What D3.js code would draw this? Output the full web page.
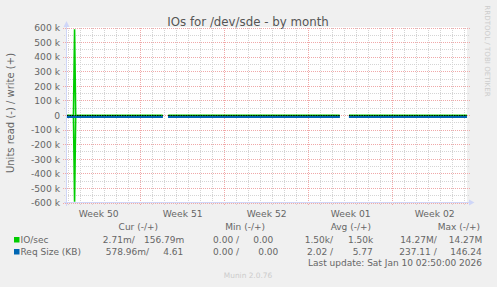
<!DOCTYPE html>
<html>
  <head>
    <title>IOs for /dev/sde - by month</title>
    <script src="https://d3js.org/d3.v7.min.js"></script>
    <style>
      body { margin: 0; background: #f0f0f0; }
      svg { display: block; font-family: "DejaVu Sans", sans-serif; }
      text { fill: #666; }
    </style>
  </head>
  <body>
    <div id="chart"></div>
    <script>
      // Samples (local time, 2h averages), null = no data
      var times = ["2025-12-08 20:36", "2025-12-09 09:30", "2025-12-09 11:45", "2025-12-09 14:00",
                   "2025-12-16 20:00", "2025-12-16 21:00", "2025-12-17 07:00",
                   "2025-12-31 14:00", "2025-12-31 15:00", "2026-01-01 08:30", "2026-01-11 04:36"];
      var ioRead   = [0.003, 0, 592000, 0, 1500, null, 1500, 1500, null, 1500, 0.003];
      var ioWrite  = [0.157, 0, 592000, 0, 1500, null, 1500, 1500, null, 1500, 0.157];
      var reqRead  = [0.58, 2, 237.11, 2, 2, null, 2, 2, null, 2, 0.58];
      var reqWrite = [4.61, 5, 146.24, 5, 5, null, 5, 5, null, 5, 4.61];

      var yTickValues = [600000, 500000, 400000, 300000, 200000, 100000, 0,
                         -100000, -200000, -300000, -400000, -500000, -600000];
      var yTickLabels = ["600 k", "500 k", "400 k", "300 k", "200 k", "100 k", "0",
                         "-100 k", "-200 k", "-300 k", "-400 k", "-500 k", "-600 k"];

      var legendNames = ["IO/sec", "Req Size (KB)"];
      var legendColors = ["#00cc00", "#0066b3"];
      var curValues = [["2.71m/", "156.79m"], ["578.96m/", "4.61"]];
      var minValues = [["0.00 /", "0.00"], ["0.00 /", "0.00"]];
      var avgValues = [["1.50k/", "1.50k"], ["2.02 /", "5.77"]];
      var maxValues = [["14.27M/", "14.27M"], ["237.11 /", "146.24"]];

      var parse = d3.timeParse("%Y-%m-%d %H:%M");
      var t = times.map(parse);

      var W = 497, H = 287;
      var svg = d3.select("#chart").append("svg")
        .attr("width", W)
        .attr("height", H);

      svg.append("rect").attr("width", W).attr("height", H).attr("fill", "#f0f0f0");

      var x = d3.scaleTime()
        .domain([parse("2025-12-08 20:36"), parse("2026-01-11 04:36")])
        .range([67, 467]);
      var y = d3.scaleLinear()
        .domain([-600000, 600000])
        .range([203, 28]);

      var px = function(v) { return Math.floor(v) + 0.5; };

      // canvas
      svg.append("rect").attr("x", 66).attr("y", 27).attr("width", 401).attr("height", 176)
        .attr("fill", "#fff");

      svg.append("clipPath").attr("id", "clip")
        .append("rect").attr("x", 67).attr("y", 27).attr("width", 400).attr("height", 176);

      var grid = svg.append("g");

      // minor grid
      var days = x.ticks(d3.timeDay.every(1));
      grid.selectAll(".vmin").data(days).enter().append("line")
        .attr("x1", function(d) { return px(x(d)); }).attr("x2", function(d) { return px(x(d)); })
        .attr("y1", 28).attr("y2", 205)
        .attr("stroke", "#d4d4d4").attr("stroke-dasharray", "1,1");
      var halves = yTickValues.slice(0, -1).map(function(v) { return v - 50000; });
      grid.selectAll(".hmin").data(halves).enter().append("line")
        .attr("x1", 64).attr("x2", 469)
        .attr("y1", function(d) { return px(y(d)); }).attr("y2", function(d) { return px(y(d)); })
        .attr("stroke", "#d4d4d4").attr("stroke-dasharray", "1,1");

      // major grid
      var weeks = x.ticks(d3.timeMonday.every(1));
      grid.selectAll(".vmaj").data(weeks).enter().append("line")
        .attr("x1", function(d) { return px(x(d)); }).attr("x2", function(d) { return px(x(d)); })
        .attr("y1", 28).attr("y2", 206)
        .attr("stroke", "#f0a8a8").attr("stroke-dasharray", "1,1");
      grid.selectAll(".hmaj").data(yTickValues).enter().append("line")
        .attr("x1", 63).attr("x2", 470)
        .attr("y1", function(d) { return px(y(d)); }).attr("y2", function(d) { return px(y(d)); })
        .attr("stroke", "#f0a8a8").attr("stroke-dasharray", "1,1");

      // data
      var plot = svg.append("g").attr("clip-path", "url(#clip)");
      function series(vals, sign) {
        return vals.map(function(v, i) { return { t: t[i], v: v == null ? null : sign * v }; });
      }
      var line = d3.line()
        .defined(function(d) { return d.v != null; })
        .x(function(d) { return x(d.t); })
        .y(function(d) { return y(d.v); });

      plot.append("path").datum(series(ioRead, -1)).attr("d", line)
        .attr("fill", "none").attr("stroke", legendColors[0]).attr("stroke-width", 1.6);
      plot.append("path").datum(series(ioWrite, 1)).attr("d", line)
        .attr("fill", "none").attr("stroke", legendColors[0]).attr("stroke-width", 1.6);
      plot.append("path").datum(series(reqRead, -1)).attr("d", line)
        .attr("transform", "translate(0,1.5)")
        .attr("fill", "none").attr("stroke", legendColors[1]).attr("stroke-width", 2);
      plot.append("path").datum(series(reqWrite, 1)).attr("d", line)
        .attr("transform", "translate(0,1.5)")
        .attr("fill", "none").attr("stroke", legendColors[1]).attr("stroke-width", 2);
      plot.append("path").datum(series(reqWrite, 0)).attr("d", line)
        .attr("fill", "none").attr("stroke", "#000").attr("stroke-width", 1)
        .attr("stroke-dasharray", "1.5,1");

      // axes
      var axisColor = "#cfd6f8";
      svg.append("line").attr("x1", 64).attr("x2", 469).attr("y1", 202.5).attr("y2", 202.5)
        .attr("stroke", axisColor);
      svg.append("line").attr("x1", 66.5).attr("x2", 66.5).attr("y1", 206).attr("y2", 26)
        .attr("stroke", axisColor);
      svg.append("path").attr("d", "M469,199.5L474.5,202.5L469,205.5Z").attr("fill", axisColor);
      svg.append("path").attr("d", "M63.5,27L66.5,21L69.5,27Z").attr("fill", axisColor);

      // y labels
      svg.selectAll(".ylab").data(yTickValues).enter().append("text")
        .attr("x", 60).attr("y", function(d) { return y(d) + 3.3; })
        .attr("text-anchor", "end").style("font-size", "9.2px")
        .text(function(d, i) { return yTickLabels[i]; });

      // x labels, centred in the week
      var labelWeeks = d3.timeMonday.range(d3.timeMonday.floor(x.domain()[0]), x.domain()[1])
        .filter(function(d) { var p = x(d3.timeHour.offset(d, 84)); return p > 67 && p < 467; });
      var weekFmt = d3.timeFormat("%V");
      svg.selectAll(".xlab").data(labelWeeks).enter().append("text")
        .attr("x", function(d) { return x(d3.timeHour.offset(d, 84)); })
        .attr("y", 216.5).attr("text-anchor", "middle").style("font-size", "9.2px")
        .text(function(d) { return "Week " + weekFmt(d); });

      // titles
      svg.append("text").attr("x", 248).attr("y", 26).attr("text-anchor", "middle")
        .style("font-size", "11.8px").style("fill", "#555")
        .text("IOs for /dev/sde - by month");
      svg.append("text").attr("transform", "translate(14,113) rotate(-90)")
        .attr("text-anchor", "middle").style("font-size", "10px")
        .text("Units read (-) / write (+)");
      svg.append("text").attr("transform", "translate(485,51) rotate(90)")
        .attr("text-anchor", "middle").style("font-size", "7.1px").style("fill", "#ccc")
        .text("RRDTOOL / TOBI OETIKER");

      // legend
      var fs = "9px";
      var heads = [["Cur (-/+)", 158], ["Min (-/+)", 265], ["Avg (-/+)", 371], ["Max (-/+)", 480]];
      heads.forEach(function(h) {
        svg.append("text").attr("x", h[1]).attr("y", 230).attr("text-anchor", "end")
          .style("font-size", fs).text(h[0]);
      });
      var rowY = [243, 255];
      var colEnds = [[134.7, 184.3, 239, 273.3, 333, 373.3, 436.7, 482.3],
                     [149, 183.3, 239, 278.3, 333, 372.7, 436.7, 481.7]];
      legendNames.forEach(function(name, i) {
        svg.append("rect").attr("x", 14).attr("y", rowY[i] - 6).attr("width", 5.5).attr("height", 5.5)
          .attr("fill", legendColors[i]);
        svg.append("text").attr("x", 20.5).attr("y", rowY[i]).style("font-size", fs).text(name);
        var vals = [].concat(curValues[i], minValues[i], avgValues[i], maxValues[i]);
        vals.forEach(function(v, j) {
          svg.append("text").attr("x", colEnds[i][j]).attr("y", rowY[i])
            .attr("text-anchor", "end").style("font-size", fs).text(v);
        });
      });
      svg.append("text").attr("x", 482).attr("y", 266).attr("text-anchor", "end")
        .style("font-size", fs).text("Last update: Sat Jan 10 02:50:00 2026");
      svg.append("text").attr("x", 248).attr("y", 278).attr("text-anchor", "middle")
        .style("font-size", "7.4px").style("fill", "#ccc").text("Munin 2.0.76");
    </script>
  </body>
</html>
